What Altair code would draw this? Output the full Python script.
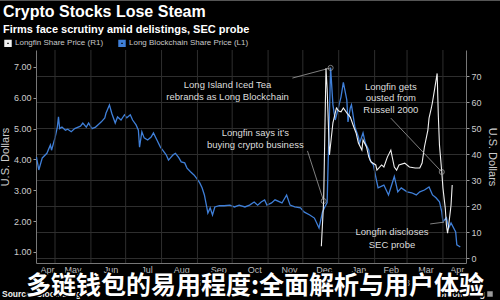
import altair as alt
import pandas as pd

FONT = "Liberation Sans"
CJK = "Noto Sans CJK SC"

TITLE = "Crypto Stocks Lose Steam"
SUBTITLE = "Firms face scrutiny amid delistings, SEC probe"
WATERMARK = "多链钱包的易用程度:全面解析与用户体验"
SOURCE = "Source: Bloomberg"
BRAND = "Bloomberg"

SERIES = ["Longfin Share Price (R1)", "Long Blockchain Share Price (L1)"]
COLORS = ["#f2f2f2", "#3f7fd8"]

# Long Blockchain (left axis, USD)
blue_dates = ["2017-04-15","2017-04-17","2017-04-20","2017-04-24","2017-04-27","2017-04-28",
    "2017-05-01","2017-05-03","2017-05-04","2017-05-05","2017-05-07","2017-05-10","2017-05-12","2017-05-15","2017-05-18","2017-05-23","2017-05-25","2017-05-28","2017-05-30",
    "2017-06-02","2017-06-05","2017-06-07","2017-06-10","2017-06-13","2017-06-14","2017-06-17","2017-06-19","2017-06-22","2017-06-24","2017-06-27","2017-06-30",
    "2017-07-02","2017-07-05","2017-07-07","2017-07-10","2017-07-12","2017-07-13","2017-07-15","2017-07-17","2017-07-20","2017-07-23","2017-07-25","2017-07-28","2017-07-31",
    "2017-08-02","2017-08-05","2017-08-07","2017-08-11","2017-08-13","2017-08-16","2017-08-18","2017-08-21","2017-08-23","2017-08-26","2017-08-29","2017-08-31",
    "2017-09-03","2017-09-05","2017-09-07","2017-09-09","2017-09-10","2017-09-12","2017-09-14","2017-09-16","2017-09-20","2017-09-24","2017-09-29",
    "2017-10-03","2017-10-07","2017-10-12","2017-10-16","2017-10-20","2017-10-23","2017-10-26","2017-10-29","2017-10-31",
    "2017-11-04","2017-11-07","2017-11-13","2017-11-17","2017-11-20","2017-11-24","2017-11-29",
    "2017-12-02","2017-12-07","2017-12-11","2017-12-15","2017-12-18","2017-12-20","2017-12-22","2017-12-25","2017-12-27","2017-12-29",
    "2018-01-03","2018-01-05","2018-01-08","2018-01-09","2018-01-11","2018-01-12","2018-01-15","2018-01-18","2018-01-19","2018-01-22","2018-01-24","2018-01-27","2018-01-28","2018-01-31",
    "2018-02-02","2018-02-04","2018-02-09","2018-02-13","2018-02-18","2018-02-21","2018-02-24",
    "2018-03-01","2018-03-05","2018-03-09","2018-03-12","2018-03-16","2018-03-20","2018-03-23","2018-03-26","2018-03-29","2018-03-31",
    "2018-04-01","2018-04-04","2018-04-06","2018-04-08","2018-04-12","2018-04-13","2018-04-16"]
blue_values = [4.08,3.66,4.05,4.20,4.47,4.30,
    4.70,5.05,5.38,5.00,5.05,4.95,4.98,4.90,5.00,5.08,5.18,5.05,5.18,
    5.00,5.05,5.12,5.22,5.35,5.50,5.77,5.50,5.18,5.38,5.28,5.45,
    5.35,5.45,5.28,5.12,4.95,4.40,4.90,4.70,4.63,4.73,4.86,4.63,4.40,
    4.30,4.15,3.98,4.15,4.20,4.05,3.92,3.89,3.72,3.60,3.50,3.40,
    3.24,3.08,2.85,2.46,2.26,2.43,2.20,2.46,2.50,2.50,2.52,
    2.46,2.52,2.46,2.52,2.62,2.52,2.62,2.69,2.52,
    2.59,2.69,2.59,2.85,2.52,2.46,2.43,
    2.30,2.20,2.10,1.78,2.30,2.46,2.60,6.97,5.77,5.28,
    6.03,6.50,5.93,5.22,5.67,5.77,5.05,4.73,4.53,4.86,4.53,4.30,3.98,3.82,
    3.43,3.08,3.17,2.85,3.45,2.95,3.08,
    2.95,2.92,2.85,2.95,3.01,3.11,2.85,2.76,2.63,2.30,
    1.98,2.11,1.78,1.94,1.65,1.23,1.16]

# Longfin (right axis, USD)
white_dates = ["2017-12-17","2017-12-19","2017-12-21","2017-12-22","2017-12-24","2017-12-27","2017-12-30",
    "2018-01-01","2018-01-03","2018-01-05","2018-01-08","2018-01-11","2018-01-14","2018-01-16","2018-01-18","2018-01-21","2018-01-22","2018-01-25","2018-01-27","2018-01-29",
    "2018-02-02","2018-02-03","2018-02-07","2018-02-09","2018-02-12","2018-02-15","2018-02-18","2018-02-20","2018-02-22","2018-02-27",
    "2018-03-03","2018-03-08","2018-03-12","2018-03-14","2018-03-16","2018-03-19","2018-03-20","2018-03-22","2018-03-23","2018-03-25","2018-03-27","2018-03-28","2018-03-29","2018-03-31",
    "2018-04-01","2018-04-03","2018-04-04","2018-04-05","2018-04-06","2018-04-08","2018-04-09"]
white_values = [4.5,21.9,73.0,65.0,39.6,52.0,57.7,
    56.5,56.2,57.7,55.8,54.2,50.4,48.1,44.2,41.5,45.4,42.7,38.8,36.9,
    35.8,33.8,35.8,35.0,38.8,41.5,35.0,33.8,35.8,36.5,
    35.0,34.6,34.6,36.5,42.7,49.2,53.8,57.7,60.0,65.4,71.0,55.0,43.5,33.1,
    26.9,19.2,12.7,9.6,12.7,20.4,28.1]

month_starts = ["2017-05-01","2017-06-01","2017-07-01","2017-08-01","2017-09-01","2017-10-01","2017-11-01",
                "2017-12-01","2018-01-01","2018-02-01","2018-03-01","2018-04-01"]
month_label_dates = ["2017-04-24","2017-05-16","2017-06-18","2017-07-19","2017-08-18","2017-09-19","2017-10-20",
                     "2017-11-19","2017-12-19","2018-01-18","2018-02-15","2018-03-17","2018-04-13"]
year_labels = ["2017", "2018"]
year_label_dates = ["2017-08-28", "2018-02-23"]
left_ticks = [1, 2, 3, 4, 5, 6, 7]
right_ticks = [0, 10, 20, 30, 40, 50, 60, 70]

# annotation text lines (positioned on the left-axis scale)
ann_lines = ["Long Island Iced Tea", "rebrands as Long Blockchain", "Longfin says it\u2019s", "buying crypto business",
             "Longfin gets", "ousted from", "Russell 2000", "Longfin discloses", "SEC probe"]
ann_dates = ["2017-09-27", "2017-09-27", "2017-10-21", "2017-10-21",
             "2018-02-15", "2018-02-15", "2018-02-15", "2018-02-16", "2018-02-16"]
ann_values = [6.42, 6.03, 4.86, 4.47, 6.35, 5.98, 5.61, 1.65, 1.23]

# leader lines
leadL_from_date, leadL_from_val, leadL_to_date, leadL_to_val = ["2017-11-22"], [6.64], ["2017-12-25"], [6.97]
leadR_from_date = ["2017-12-05", "2018-02-15", "2018-03-21"]
leadR_from_val = [41.2, 53.8, 13.1]
leadR_to_date = ["2017-12-19", "2018-03-31", "2018-04-02"]
leadR_to_val = [21.9, 33.1, 13.8]
markL_date, markL_val = ["2017-12-25"], [6.97]
markR_date, markR_val = ["2017-12-19", "2018-03-31"], [21.9, 33.1]


def dt(s, hours=0):
    y, m, d = (int(p) for p in s.split("-"))
    return alt.DateTime(year=y, month=m, date=d, hours=hours)


df_blue = pd.DataFrame({"date": pd.to_datetime(blue_dates), "value": blue_values, "series": SERIES[1]})
df_white = pd.DataFrame({"date": pd.to_datetime(white_dates), "value": white_values, "series": SERIES[0]})
df_months = pd.DataFrame({"date": pd.to_datetime(month_starts)})
df_years = pd.DataFrame({"date": pd.to_datetime(year_label_dates), "label": year_labels})
df_ann = pd.DataFrame({"date": pd.to_datetime(ann_dates), "value": ann_values, "label": ann_lines})
df_leadL = pd.DataFrame({"date": pd.to_datetime(leadL_from_date), "v1": leadL_from_val,
                         "d2": pd.to_datetime(leadL_to_date), "v2": leadL_to_val})
df_leadR = pd.DataFrame({"date": pd.to_datetime(leadR_from_date), "v1": leadR_from_val,
                         "d2": pd.to_datetime(leadR_to_date), "v2": leadR_to_val})
df_markL = pd.DataFrame({"date": pd.to_datetime(markL_date), "value": markL_val})
df_markR = pd.DataFrame({"date": pd.to_datetime(markR_date), "value": markR_val})

W, H = 430, 213
xscale = alt.Scale(domain=[dt("2017-04-14", 14), dt("2018-04-20", 22)])
yL = alt.Scale(domain=[0.643, 7.55], nice=False, zero=False)
yR = alt.Scale(domain=[-1.92, 80], nice=False, zero=False)

color_enc = alt.Color("series:N", scale=alt.Scale(domain=SERIES, range=COLORS),
                      legend=alt.Legend(title=None, orient="none", legendX=-32, legendY=-11,
                                        direction="horizontal", symbolType="square", symbolSize=20,
                                        symbolStrokeWidth=3, labelFontSize=8, labelFont=FONT,
                                        labelColor="#c8c8c8", columnPadding=9, labelOffset=3, padding=0))

x_axis = alt.Axis(values=[dt(s) for s in month_label_dates], format="%b", title=None, grid=False,
                  ticks=False, domainColor="#777777", labelColor="#bbbbbb", labelFontSize=9,
                  labelFont=FONT, labelPadding=2, labelFlush=False, labelOverlap=False)
left_axis = alt.Axis(orient="left", values=left_ticks, format=".2f", title="U.S. Dollars",
                     titleFont=FONT, titleFontSize=11, titleFontWeight="normal", titleColor="#cccccc",
                     titlePadding=3, labelColor="#cccccc", labelFontSize=9, labelFont=FONT,
                     tickColor="#999999", tickSize=3, labelPadding=2, domainColor="#777777", grid=False)
right_axis = alt.Axis(orient="right", values=right_ticks, format="d", title="U.S. Dollars",
                      titleFont=FONT, titleFontSize=11, titleFontWeight="normal", titleColor="#cccccc",
                      titlePadding=5, labelColor="#cccccc", labelFontSize=9, labelFont=FONT,
                      tickColor="#999999", tickSize=3, labelPadding=2, domainColor="#777777",
                      grid=True, gridColor="#2e2e2e")

X = alt.X("date:T", scale=xscale, axis=x_axis)

vgrid = alt.Chart(df_months).mark_rule(color="#2e2e2e", strokeWidth=1).encode(x=X)
blue = alt.Chart(df_blue).mark_line(strokeWidth=1.3).encode(
    x=X, y=alt.Y("value:Q", scale=yL, axis=left_axis), color=color_enc)
leadL = alt.Chart(df_leadL).mark_rule(color="#a0a0a0", strokeWidth=0.8).encode(
    x=X, x2="d2:T", y=alt.Y("v1:Q", scale=yL, axis=None), y2="v2:Q")
markL = alt.Chart(df_markL).mark_point(shape="circle", filled=False, size=26, color="#b0b0b0", strokeWidth=1).encode(
    x=X, y=alt.Y("value:Q", scale=yL, axis=None))
ann = alt.Chart(df_ann).mark_text(font=FONT, fontSize=9.5, color="#dddddd", align="center", baseline="middle").encode(
    x=X, y=alt.Y("value:Q", scale=yL, axis=None), text="label:N")
years = alt.Chart(df_years).mark_text(font=FONT, fontSize=9, color="#bbbbbb", align="center", baseline="middle").encode(
    x=X, y=alt.value(233), text="label:N")

white = alt.Chart(df_white).mark_line(strokeWidth=1.1).encode(
    x=X, y=alt.Y("value:Q", scale=yR, axis=right_axis), color=color_enc)
leadR = alt.Chart(df_leadR).mark_rule(color="#a0a0a0", strokeWidth=0.8).encode(
    x=X, x2="d2:T", y=alt.Y("v1:Q", scale=yR, axis=None), y2="v2:Q")
markR = alt.Chart(df_markR).mark_point(shape="circle", filled=False, size=26, color="#b0b0b0", strokeWidth=1).encode(
    x=X, y=alt.Y("value:Q", scale=yR, axis=None))

one = pd.DataFrame({"t": [TITLE], "s": [SUBTITLE], "w": [WATERMARK], "src": [SOURCE], "b": [BRAND]})
base = alt.Chart(one)
border = base.mark_rule(color="#555555", strokeWidth=2).encode(
    x=alt.value(-36), x2=alt.value(464), y=alt.value(-50))
title = base.mark_text(font=FONT, fontSize=16, fontWeight="bold", color="#ffffff", align="left",
                       baseline="alphabetic").encode(x=alt.value(-33), y=alt.value(-33), text="t:N")
subtitle = base.mark_text(font=FONT, fontSize=11, fontWeight="bold", color="#ffffff", align="left",
                          baseline="alphabetic").encode(x=alt.value(-33), y=alt.value(-17), text="s:N")
src = base.mark_text(font=FONT, fontSize=8.5, fontWeight="bold", color="#eeeeee", align="left",
                     baseline="middle").encode(x=alt.value(-34), y=alt.value(244), text="src:N")
brand = base.mark_text(font=FONT, fontSize=9, fontWeight="bold", color="#eeeeee", align="right",
                       baseline="middle").encode(x=alt.value(449), y=alt.value(244), text="b:N")
brand_box = base.mark_square(size=30, color="#dddddd").encode(x=alt.value(454), y=alt.value(244))
wm_outline = base.mark_text(font=CJK, fontSize=25, fontWeight="bold", fill="#000000", stroke="#000000",
                            strokeWidth=3, strokeJoin="round", align="center", baseline="middle").encode(
    x=alt.value(219), y=alt.value(236), text="w:N")
wm = base.mark_text(font=CJK, fontSize=25, fontWeight="bold", fill="#ffffff", align="center",
                    baseline="middle").encode(x=alt.value(219), y=alt.value(236), text="w:N")

chart = alt.layer(
    blue, vgrid, leadL, markL, ann, years,
    white, leadR, markR,
    border, title, subtitle, src, brand, brand_box, wm_outline, wm,
).resolve_scale(y="independent").properties(
    width=W, height=H,
    autosize=alt.AutoSizeParams(type="none"),
    padding={"left": 36, "top": 50, "right": 34, "bottom": 37},
).configure(background="#000000").configure_view(strokeWidth=0)

chart.save("out.html", embed_options={"renderer": "svg", "actions": False})
